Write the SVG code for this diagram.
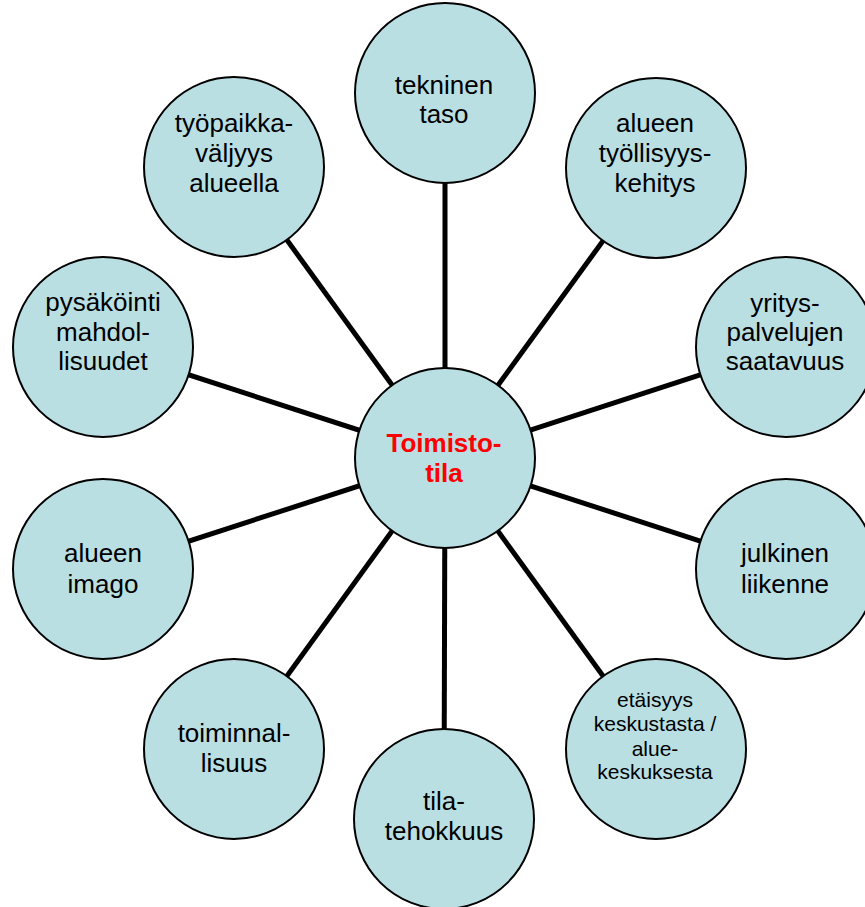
<svg xmlns="http://www.w3.org/2000/svg" width="865" height="907" viewBox="0 0 865 907">
<style>
.n{fill:#badfe3;stroke:#000;stroke-width:2}
.t{font-family:"Liberation Sans",Arial,sans-serif;font-size:26px;fill:#000;text-anchor:middle}
.s{font-size:21px}
.c{font-weight:bold;fill:#ff0000}
#edges line{stroke:#000;stroke-width:5}
</style>
<rect width="865" height="907" fill="#fff"/>
<g id="edges">
<line x1="445" y1="458" x2="445" y2="93"/>
<line x1="445" y1="458" x2="656" y2="168"/>
<line x1="445" y1="458" x2="786" y2="347"/>
<line x1="445" y1="458" x2="786" y2="569"/>
<line x1="445" y1="458" x2="656" y2="749"/>
<line x1="445" y1="458" x2="444" y2="819"/>
<line x1="445" y1="458" x2="234" y2="749"/>
<line x1="445" y1="458" x2="103" y2="569"/>
<line x1="445" y1="458" x2="103" y2="347"/>
<line x1="445" y1="458" x2="234" y2="167"/>
</g>
<g id="n-tekninen"><circle class="n" cx="445" cy="93" r="90"/><text class="t" x="444" y="94">tekninen</text><text class="t" x="444" y="123">taso</text></g>
<g id="n-tyollisyys"><circle class="n" cx="656" cy="168" r="90"/><text class="t" x="655" y="132">alueen</text><text class="t" x="655" y="162">työllisyys-</text><text class="t" x="655" y="192">kehitys</text></g>
<g id="n-yrityspalvelut"><circle class="n" cx="786" cy="347" r="90"/><text class="t" x="785" y="312">yritys-</text><text class="t" x="785" y="341">palvelujen</text><text class="t" x="785" y="370">saatavuus</text></g>
<g id="n-julkinen"><circle class="n" cx="786" cy="569" r="90"/><text class="t" x="785" y="562">julkinen</text><text class="t" x="785" y="593">liikenne</text></g>
<g id="n-etaisyys"><circle class="n" cx="656" cy="749" r="90"/><text class="t s" x="655" y="707">etäisyys</text><text class="t s" x="655" y="731">keskustasta /</text><text class="t s" x="655" y="756">alue-</text><text class="t s" x="655" y="779">keskuksesta</text></g>
<g id="n-tilatehokkuus"><circle class="n" cx="444" cy="819" r="90"/><text class="t" x="444" y="810">tila-</text><text class="t" x="444" y="840">tehokkuus</text></g>
<g id="n-toiminnallisuus"><circle class="n" cx="234" cy="749" r="90"/><text class="t" x="234" y="742">toiminnal-</text><text class="t" x="234" y="772">lisuus</text></g>
<g id="n-imago"><circle class="n" cx="103" cy="569" r="90"/><text class="t" x="103" y="562">alueen</text><text class="t" x="103" y="593">imago</text></g>
<g id="n-pysakointi"><circle class="n" cx="103" cy="347" r="90"/><text class="t" x="103" y="311">pysäköinti</text><text class="t" x="103" y="341">mahdol-</text><text class="t" x="103" y="370">lisuudet</text></g>
<g id="n-tyopaikka"><circle class="n" cx="234" cy="167" r="90"/><text class="t" x="234" y="132">työpaikka-</text><text class="t" x="234" y="162">väljyys</text><text class="t" x="234" y="192">alueella</text></g>
<g id="n-center"><circle class="n" cx="445" cy="458" r="90"/><text class="t c" x="444" y="452">Toimisto-</text><text class="t c" x="444" y="482">tila</text></g>
</svg>
